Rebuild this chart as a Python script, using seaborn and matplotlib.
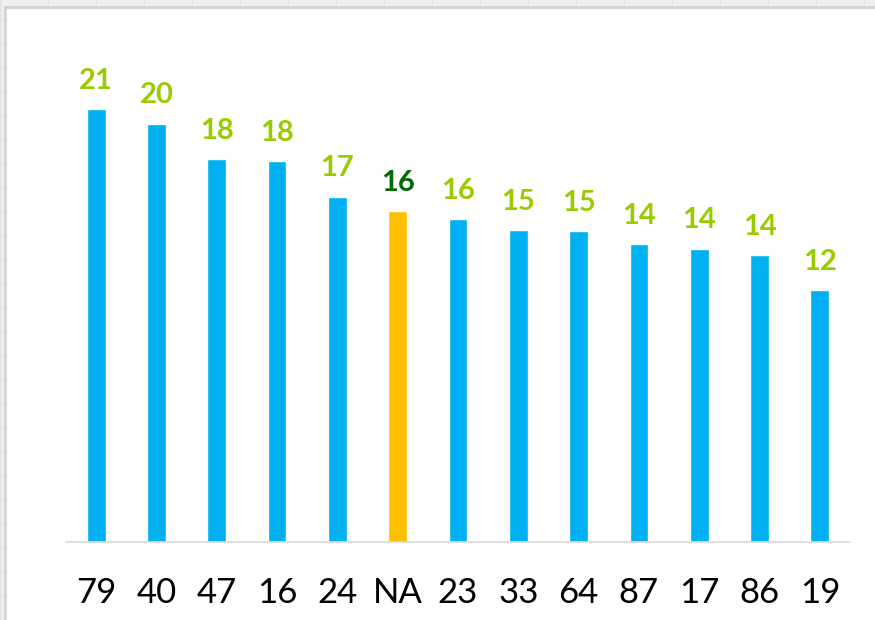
import pandas as pd
import matplotlib.pyplot as plt
import seaborn as sns
from matplotlib.patches import Rectangle

# dados
categorias = ['79', '40', '47', '16', '24', 'NA', '23', '33', '64', '87', '17', '86', '19']
valores = [20.8, 20.1, 18.4, 18.3, 16.6, 15.9, 15.5, 15.0, 14.95, 14.3, 14.1, 13.8, 12.1]
destaque = 'NA'

cor_barra = '#00B0F0'
cor_destaque = '#FFC000'
cor_rotulo = '#99CC00'
cor_rotulo_destaque = '#006B00'

base = pd.DataFrame({'cat': categorias, 'valor': valores})
paleta = {c: (cor_destaque if c == destaque else cor_barra) for c in categorias}

sns.set_style('white')
plt.rcParams['font.family'] = ['Lato', 'DejaVu Sans']

fig = plt.figure(figsize=(8.75, 6.2), dpi=100, facecolor='#efefef')

# fundo estilo planilha (atrás de tudo)
for gx in range(0, 875, 48):
    fig.add_artist(plt.Line2D([gx / 875, gx / 875], [0, 1], color='#e2e2e2', lw=1, zorder=-3))
for gy in range(0, 620, 24):
    fig.add_artist(plt.Line2D([0, 1], [gy / 620, gy / 620], color='#e2e2e2', lw=1, zorder=-3))
fig.add_artist(Rectangle((5 / 875, -0.05), 1.1, 1.05 - 8 / 620, transform=fig.transFigure,
                         facecolor='white', edgecolor='none', zorder=-2))
fig.add_artist(plt.Line2D([5 / 875, 1], [1 - 7 / 620] * 2, color='#d4d4d4', lw=2, zorder=-1))
fig.add_artist(plt.Line2D([5 / 875] * 2, [0, 1 - 7 / 620], color='#d4d4d4', lw=2, zorder=-1))

ax = fig.add_axes([66 / 875, 78 / 620, 784 / 875, 512 / 620])
sns.barplot(data=base, x='cat', y='valor', hue='cat', palette=paleta, order=categorias,
            width=0.31, legend=False, saturation=1, ax=ax)

ax.set_ylim(0, 24.6)
ax.set_xlim(-0.5, len(categorias) - 0.5)
ax.set_xlabel('')
ax.set_ylabel('')
ax.set_yticks([])
ax.tick_params(axis='x', length=0, pad=25, labelsize=25, labelcolor='black')
for lado in ['top', 'left', 'right']:
    ax.spines[lado].set_visible(False)
ax.spines['bottom'].set_color('#d9d9d9')
ax.spines['bottom'].set_linewidth(1.2)
ax.patch.set_alpha(0)

for i, (c, v) in enumerate(zip(categorias, valores)):
    cor = cor_rotulo_destaque if c == destaque else cor_rotulo
    ax.annotate(f'{v:.0f}', (i, v), xytext=(0, 11), textcoords='offset points',
                ha='center', va='bottom', fontsize=21, fontweight='bold', color=cor)

plt.savefig('out.png', dpi=100, facecolor=fig.get_facecolor())
